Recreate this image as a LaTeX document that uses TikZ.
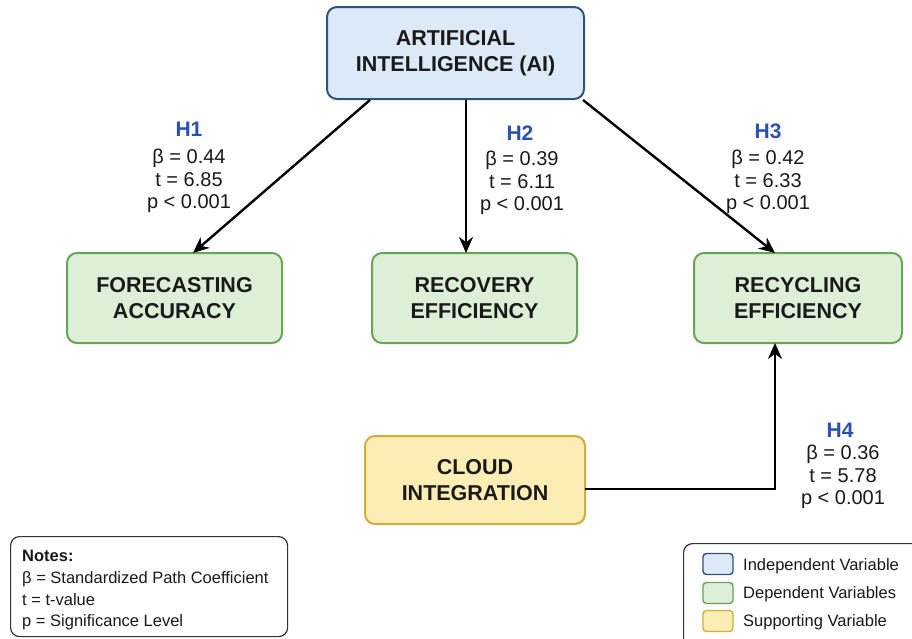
\documentclass[tikz,border=0pt]{standalone}
\usepackage{fontspec}
\setmainfont{Liberation Sans}
\usetikzlibrary{arrows.meta}
\definecolor{bluefill}{HTML}{DCEAF7}
\definecolor{blueline}{HTML}{2F5283}
\definecolor{greenfill}{HTML}{DDEFD6}
\definecolor{greenline}{HTML}{6AA45A}
\definecolor{yelfill}{HTML}{FCEDB5}
\definecolor{yelline}{HTML}{D2AC3C}
\definecolor{hblue}{HTML}{2A50B5}
\definecolor{textc}{HTML}{1A1A1A}
\tikzset{
  x=1pt, y=-1pt,
  box/.style={draw, rounded corners=10pt, line width=2pt, align=center,
    font=\fontsize{21.5}{26}\selectfont\bfseries, text=textc, inner sep=0pt},
  ivbox/.style={box, fill=bluefill, draw=blueline},
  dvbox/.style={box, fill=greenfill, draw=greenline},
  svbox/.style={box, fill=yelfill, draw=yelline},
  stat/.style={align=center, font=\fontsize{20}{22.5}\selectfont, text=textc, inner sep=0pt},
  hyp/.style={font=\fontsize{21}{24}\selectfont\bfseries, text=hblue, inner sep=0pt},
  conn/.style={line width=2.4pt, -{Stealth[length=16pt,width=14pt]}},
  panel/.style={draw=black!80, rounded corners=9pt, line width=1.2pt, fill=white},
  swatch/.style={draw, rounded corners=3.5pt, line width=1.4pt, minimum width=30pt, minimum height=21pt, inner sep=0pt},
  small/.style={font=\fontsize{16.5}{19}\selectfont, text=textc, inner sep=0pt, anchor=base west}
}
\begin{document}
\begin{tikzpicture}
\useasboundingbox[fill=white] (0,0) rectangle (912,638);
% boxes
\node[ivbox, minimum width=257pt, minimum height=92pt] (ai) at (455.5,53) {ARTIFICIAL\\INTELLIGENCE (AI)};
\node[dvbox, minimum width=215pt, minimum height=90pt] (fa) at (174.5,298) {FORECASTING\\ACCURACY};
\node[dvbox, minimum width=205pt, minimum height=90pt] (re) at (474.5,298) {RECOVERY\\EFFICIENCY};
\node[dvbox, minimum width=208pt, minimum height=90pt] (rc) at (798,298) {RECYCLING\\EFFICIENCY};
\node[svbox, minimum width=220pt, minimum height=88pt] (ci) at (475,480) {CLOUD\\INTEGRATION};
% connectors
\coordinate (a1) at (370,100);
\coordinate (a2) at (466,100);
\coordinate (a3) at (583,100);
\coordinate (b1) at (193,253);
\coordinate (b2) at (466,253);
\coordinate (b3) at (775,253);
\coordinate (b4) at (775,343);
\coordinate (c4) at (585,489);
\draw[conn] (a1) -- (b1);
\draw[conn] (a2) -- (b2);
\draw[conn] (a3) -- (b3);
\draw[conn] (c4) -- (775,489) -- (b4);
% labels
\node[hyp] (h1) at (189,129) {H1};
\node[stat] (s1) at (189,181) {β = 0.44\\t = 6.85\\p < 0.001};
\node[hyp] (h2) at (520,133) {H2};
\node[stat] (s2) at (522,183) {β = 0.39\\t = 6.11\\p < 0.001};
\node[hyp] (h3) at (768,131) {H3};
\node[stat] (s3) at (768,182) {β = 0.42\\t = 6.33\\p < 0.001};
\node[hyp] (h4) at (840,430) {H4};
\node[stat] (s4) at (843,477) {β = 0.36\\t = 5.78\\p < 0.001};
% notes
\node[panel, minimum width=277pt, minimum height=100pt, anchor=north west] (notes) at (10,536) {};
\node[small, font=\fontsize{16.5}{19}\selectfont\bfseries] (n0) at (22,561) {Notes:};
\node[small] (n1) at (22,583) {β = Standardized Path Coefficient};
\node[small] (n2) at (22,605) {t = t-value};
\node[small] (n3) at (22,626) {p = Significance Level};
% legend
\begin{scope}
\clip (0,0) rectangle (912,638);
\node[panel, minimum width=240pt, minimum height=110pt, anchor=north west] (leg) at (683,543) {};
\end{scope}
\node[swatch, fill=bluefill, draw=blueline] (l1) at (718,564) {};
\node[swatch, fill=greenfill, draw=greenline] (l2) at (718,593) {};
\node[swatch, fill=yelfill, draw=yelline] (l3) at (718,621) {};
\node[small] (t1) at (743,570) {Independent Variable};
\node[small] (t2) at (743,598) {Dependent Variables};
\node[small] (t3) at (743,626) {Supporting Variable};
\end{tikzpicture}
\end{document}
